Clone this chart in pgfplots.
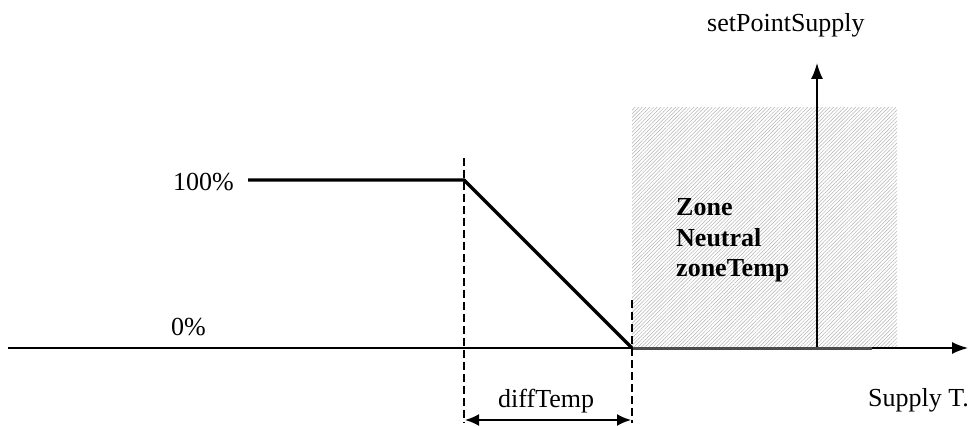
\documentclass[border=0pt]{standalone}
\usepackage{pgfplots}
\pgfplotsset{compat=1.18}
\usepackage{fontspec}
\setmainfont{Liberation Serif}
\usetikzlibrary{arrows.meta,patterns.meta}
\tikzset{lbl/.style={anchor=base west, inner sep=0pt, font=\fontsize{26}{30}\selectfont}}
\begin{document}
\begin{tikzpicture}
\begin{axis}[
  scale only axis, width=972pt, height=425pt,
  xmin=0, xmax=972, ymin=0, ymax=425,
  hide axis, clip=false
]
% invisible frame to fix bounding box
\addplot[draw=none] coordinates {(0,0) (972,425)};
% hatched neutral zone
\addplot[draw=none, pattern={Lines[angle=45,distance=2.6pt,line width=0.5pt]}, pattern color=black!30]
  coordinates {(632,77) (897,77) (897,317) (632,317)} -- cycle;
% horizontal axis
\addplot[line width=1.5pt, -{Latex[length=16pt,width=12pt]}] coordinates {(8,77) (968,77)};
% vertical setpoint arrow
\addplot[line width=1.5pt, -{Latex[length=16pt,width=12pt]}] coordinates {(817,77) (817,362)};
% gray thick along axis in zone
\addplot[line width=3pt, black!70] coordinates {(632,77) (872,77)};
% characteristic
\addplot[line width=3.2pt, line join=miter] coordinates {(248,245) (464,245) (632,77)};
% dashed verticals
\addplot[line width=1.5pt, dash pattern=on 8pt off 4pt] coordinates {(464,267) (464,2)};
\addplot[line width=1.5pt, dash pattern=on 8pt off 4pt] coordinates {(632,125) (632,2)};
% diffTemp arrow
\addplot[line width=2pt, {Latex[length=14pt,width=12pt]}-{Latex[length=14pt,width=12pt]}] coordinates {(465,5) (631,5)};
% texts
\node[lbl] at (axis cs:173,234) {100\%};
\node[lbl] at (axis cs:171,90) {0\%};
\node[lbl] at (axis cs:498,18) {diffTemp};
\node[lbl] at (axis cs:868,19) {Supply T.};
\node[lbl] at (axis cs:707,393) {setPointSupply};
\node[lbl, font=\fontsize{26}{30}\selectfont\bfseries] at (axis cs:676,209) {Zone};
\node[lbl, font=\fontsize{26}{30}\selectfont\bfseries] at (axis cs:676,178) {Neutral};
\node[lbl, font=\fontsize{26}{30}\selectfont\bfseries] at (axis cs:676,148) {zoneTemp};
\end{axis}
\end{tikzpicture}
\end{document}
